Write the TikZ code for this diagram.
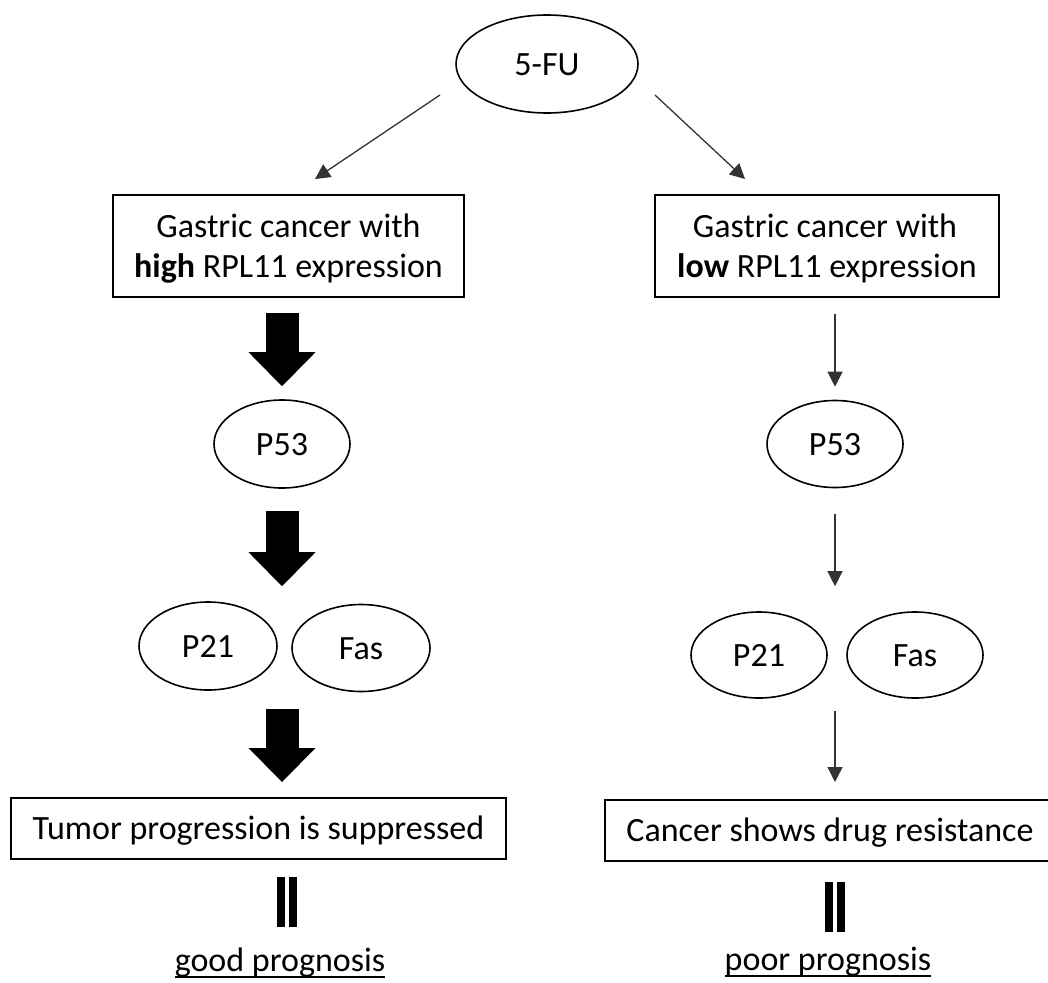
\documentclass[tikz,border=0pt]{standalone}
\usepackage{fontspec}
\setmainfont{Carlito}
\usetikzlibrary{shapes.geometric,arrows.meta,calc}
\begin{document}
\begin{tikzpicture}[x=1pt,y=-1pt,
  every node/.style={font=\fontsize{34}{40}\selectfont, inner sep=0pt},
  oval/.style={draw, line width=1.6pt, ellipse, text height=22pt, text depth=0pt},
  box/.style={draw, line width=2pt},
  onebox/.style={box, text height=22pt, text depth=0pt},
  thinarrow/.style={draw=black!80, line width=1.3pt, -{Triangle[length=15pt,width=15pt]}},
  fatarrow/.style={line width=33pt, line cap=butt, -{Triangle[length=34pt,width=67pt,line width=0pt]}},
  eqbar/.style={fill=black},
  uline/.style={line width=1.5pt}
]
\useasboundingbox (0,0) rectangle (1048,982);

% top
\node[oval, minimum width=182pt, minimum height=98pt] (fu) at (547,64) {5-FU};
\node[box, minimum width=351pt, minimum height=102pt] (lbox) at (288.5,246) {};
\node[anchor=base] (lbox1) at (288.5,237) {Gastric cancer with};
\node[anchor=base] (lbox2) at (288.5,277) {\textbf{high} RPL11 expression};
\node[box, minimum width=344pt, minimum height=102pt] (rbox) at (827,246) {};
\node[anchor=base] (rbox1) at (825,237) {Gastric cancer with};
\node[anchor=base] (rbox2) at (827,277) {\textbf{low} RPL11 expression};

\coordinate (fl) at (440,95);
\coordinate (fr) at (655,95);
\coordinate (tl) at (315,179);
\coordinate (tr) at (745,179);
\draw[thinarrow] (fl) -- (tl);
\draw[thinarrow] (fr) -- (tr);

% left column
\node[oval, minimum width=136pt, minimum height=88pt] (p53l) at (282,444) {P53};
\node[oval, minimum width=138pt, minimum height=88pt] (p21l) at (208,646) {P21};
\node[oval, minimum width=138pt, minimum height=87pt] (fasl) at (361,648) {Fas};
\node[onebox, minimum width=495pt, minimum height=61pt] (lbot) at (258.5,828.5) {Tumor progression is suppressed};

\draw[fatarrow, shorten <=15pt, shorten >=13pt] (p53l.north |- lbox.south) -- (p53l.north);
\draw[fatarrow, shorten <=22pt, shorten >=15pt] (p53l.south) -- (p53l.south |- p21l.north);
\draw[fatarrow, shorten <=18pt, shorten >=15pt] (p53l.south |- p21l.south) -- (p53l.south |- lbot.north);

\fill[eqbar] (277,877) rectangle (285,927);
\fill[eqbar] (288.5,877) rectangle (296.5,927);
\node[anchor=base] (good) at (280,971) {good prognosis};
\draw[uline] ([yshift=-6pt]good.base west) -- ([yshift=-6pt]good.base east);

% right column
\node[oval, minimum width=136pt, minimum height=87pt] (p53r) at (835,444) {P53};
\node[oval, minimum width=136pt, minimum height=86pt] (p21r) at (759,655) {P21};
\node[oval, minimum width=136pt, minimum height=86pt] (fasr) at (915,655) {Fas};
\node[onebox, minimum width=450pt, minimum height=61pt] (rbot) at (830,830.5) {Cancer shows drug resistance};

\draw[thinarrow, shorten <=16pt, shorten >=13pt] (p53r.north |- rbox.south) -- (p53r.north);
\draw[thinarrow, shorten <=26pt, shorten >=25pt] (p53r.south) -- (p53r.south |- p21r.north);
\draw[thinarrow, shorten <=12pt, shorten >=17pt] (p53r.south |- p21r.south) -- (p53r.south |- rbot.north);

\fill[eqbar] (825,882) rectangle (833,932);
\fill[eqbar] (836.5,882) rectangle (844.5,932);
\node[anchor=base] (poor) at (828,970) {poor prognosis};
\draw[uline] ([yshift=-6pt]poor.base west) -- ([yshift=-6pt]poor.base east);
\end{tikzpicture}
\end{document}
